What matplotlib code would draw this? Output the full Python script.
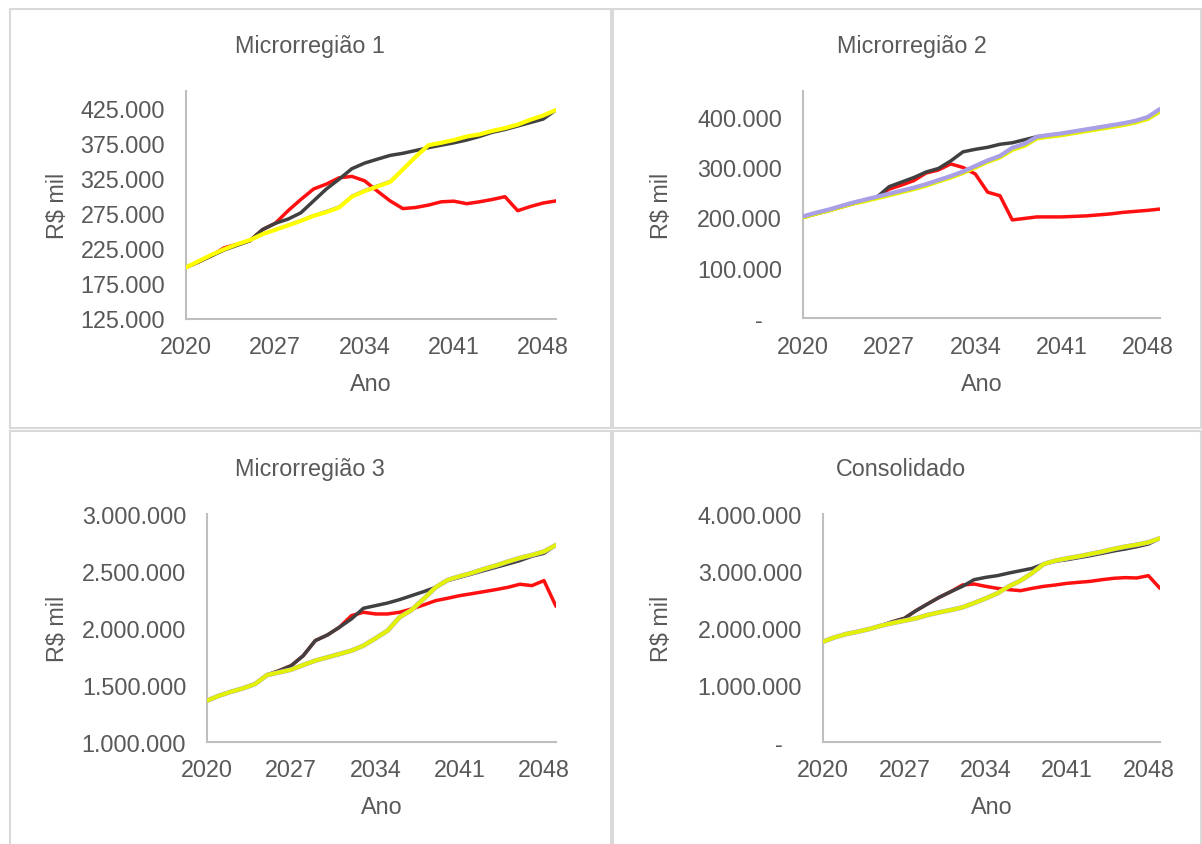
import matplotlib
matplotlib.use("Agg")
import matplotlib.pyplot as plt
from matplotlib.patches import Rectangle
from matplotlib.ticker import FuncFormatter

plt.rcParams['font.family'] = ['Liberation Sans', 'DejaVu Sans']

years = list(range(2020, 2050))
xticks = [2020, 2027, 2034, 2041, 2048]

titles = ["Microrregião 1", "Microrregião 2", "Microrregião 3", "Consolidado"]

m1_black = [198000, 206000, 214500, 223000, 229500, 236000, 252000, 261000, 267000, 276000,
            293000, 310000, 324000, 339000, 347000, 352600, 358000, 361000, 365000, 369000,
            372600, 376000, 380000, 385000, 391000, 395000, 400000, 405000, 410000, 423000]
m1_red = [198000, 206000, 215000, 226000, 231000, 236000, 252000, 261000, 279000, 295000,
          310000, 317000, 326000, 328000, 321700, 307000, 293000, 282000, 283600, 287000,
          291700, 292600, 289000, 291700, 295000, 299000, 279000, 285000, 290000, 293000]
m1_purple = [198000, 207000, 216000, 224000, 231000, 237000, 246500, 253000, 259500, 266000,
             273000, 279000, 285500, 301000, 309000, 315500, 322000, 339500, 357000, 373000,
             376000, 380000, 385000, 388000, 393000, 397000, 402000, 409000, 415000, 423000]
m1_yellow = [198000, 207000, 216000, 224000, 231000, 237000, 245500, 251700, 258000, 264500,
             271700, 277000, 283600, 299000, 307000, 313600, 320000, 338000, 356000, 372600,
             376000, 380000, 385000, 388000, 393000, 397000, 402000, 409000, 415000, 423000]

m2_black = [200000, 207000, 213000, 220000, 227000, 233000, 240000, 261000, 270000, 279000,
            290000, 297000, 312000, 330000, 335000, 339000, 345000, 348000, 354000, 360000,
            362000, 365000, 369000, 373000, 377000, 381000, 385000, 390000, 396000, 410000]
m2_red = [200000, 207000, 213000, 220000, 227000, 233000, 240000, 256000, 264000, 273000,
          288000, 294000, 306000, 299000, 286000, 250000, 243000, 195000, 198000, 201000,
          201000, 201000, 202000, 203000, 205000, 207000, 210000, 212000, 214000, 216600]
m2_yellow = [200000, 207000, 213000, 220000, 227000, 232000, 238000, 244000, 250000, 256000,
             263000, 271000, 279000, 288000, 299000, 310000, 319000, 334000, 342000, 356500,
             360000, 363000, 367000, 371000, 375000, 379000, 383000, 388000, 395000, 410000]
m2_purple = [202000, 209000, 215000, 222000, 229000, 235000, 241000, 247000, 253000, 259000,
             266000, 274000, 282000, 291000, 302000, 313000, 322000, 338000, 346000, 360000,
             363500, 366500, 370500, 374500, 378500, 382500, 386500, 391500, 399000, 415000]

m3_black = [1360000, 1404000, 1439000, 1469000, 1507000, 1586000, 1624000, 1668000, 1756000, 1888000,
            1937000, 2005000, 2078000, 2172000, 2195000, 2218000, 2248000, 2283000, 2318000, 2356000,
            2415000, 2444000, 2473000, 2503000, 2532000, 2561000, 2591000, 2629000, 2655000, 2728000]
m3_red = [1360000, 1404000, 1439000, 1469000, 1507000, 1586000, 1624000, 1668000, 1756000, 1888000,
          1937000, 2005000, 2107000, 2137000, 2122000, 2122000, 2137000, 2166000, 2201000, 2239000,
          2260000, 2283000, 2300000, 2318000, 2336000, 2356000, 2383000, 2371000, 2415000, 2189000]
m3_purple = [1360000, 1404000, 1439000, 1469000, 1507000, 1586000, 1609000, 1633000, 1674000, 1712000,
             1741000, 1770000, 1800000, 1844000, 1908000, 1975000, 2093000, 2157000, 2254000, 2356000,
             2421000, 2453000, 2482000, 2517000, 2547000, 2582000, 2614000, 2640000, 2670000, 2728000]
m3_yellow = [1360000, 1404000, 1439000, 1469000, 1507000, 1586000, 1609000, 1633000, 1674000, 1712000,
             1741000, 1770000, 1800000, 1844000, 1908000, 1975000, 2093000, 2157000, 2254000, 2356000,
             2421000, 2453000, 2482000, 2517000, 2547000, 2582000, 2614000, 2640000, 2670000, 2728000]

m4_black = [1757000, 1833000, 1892000, 1933000, 1980000, 2038000, 2108000, 2167000, 2302000, 2420000,
            2536000, 2636000, 2729000, 2846000, 2887000, 2917000, 2963000, 3004000, 3045000, 3122000,
            3170000, 3198000, 3233000, 3268000, 3309000, 3350000, 3385000, 3426000, 3473000, 3573000]
m4_red = [1757000, 1833000, 1892000, 1933000, 1980000, 2038000, 2108000, 2167000, 2302000, 2420000,
          2536000, 2636000, 2753000, 2770000, 2729000, 2694000, 2671000, 2653000, 2694000, 2729000,
          2753000, 2782000, 2800000, 2817000, 2846000, 2870000, 2882000, 2876000, 2917000, 2694000]
m4_purple = [1757000, 1833000, 1892000, 1933000, 1980000, 2038000, 2085000, 2126000, 2167000, 2226000,
             2272000, 2313000, 2360000, 2436000, 2518000, 2606000, 2729000, 2829000, 2963000, 3122000,
             3180000, 3221000, 3256000, 3297000, 3338000, 3385000, 3426000, 3461000, 3502000, 3573000]
m4_yellow = [1757000, 1833000, 1892000, 1933000, 1980000, 2038000, 2085000, 2126000, 2167000, 2226000,
             2272000, 2313000, 2360000, 2436000, 2518000, 2606000, 2729000, 2829000, 2963000, 3122000,
             3180000, 3221000, 3256000, 3297000, 3338000, 3385000, 3426000, 3461000, 3502000, 3573000]

yticks_1 = [125000, 175000, 225000, 275000, 325000, 375000, 425000]
yticks_2 = [0, 100000, 200000, 300000, 400000]
yticks_3 = [1000000, 1500000, 2000000, 2500000, 3000000]
yticks_4 = [0, 1000000, 2000000, 3000000, 4000000]

W, H = 1202, 845
fig = plt.figure(figsize=(W / 100, H / 100), dpi=100)
fig.patch.set_facecolor('white')

TXT = '#595959'
FS = 16.8


def px_rect(l, r, b, t):
    return [l / W, 1 - b / H, (r - l) / W, (b - t) / H]


def fmt(v, pos):
    if v == 0:
        return '-   '
    return f"{int(round(v)):,}".replace(',', '.')


# panel borders
for (x0, y0, x1, y1) in [(10, 10, 611, 429), (613, 10, 1201, 429),
                         (10, 432, 611, 846), (613, 432, 1201, 846)]:
    fig.patches.append(Rectangle((x0 / W, 1 - y1 / H), (x1 - x0) / W, (y1 - y0) / H,
                                 transform=fig.transFigure, fill=False,
                                 edgecolor='#D9D9D9', linewidth=1.5))

panels = [
    dict(rect=(186, 556, 319.5, 92), ylim=(125000, 450000), yt=yticks_1,
         data=(m1_black, m1_red, m1_purple, m1_yellow), yel='#FFFF00', pw=1.2, purple_top=False,
         ylx=57, offy=0),
    dict(rect=(803, 1160, 319.3, 92.3), ylim=(0, 450000), yt=yticks_2,
         data=(m2_black, m2_red, m2_purple, m2_yellow), yel='#E6F000', pw=3.0, purple_top=True,
         ylx=662, offy=0),
    dict(rect=(207, 556, 742.7, 515), ylim=(1000000, 3000000), yt=yticks_3,
         data=(m3_black, m3_red, m3_purple, m3_yellow), yel='#E2F00A', pw=3.4, purple_top=False,
         ylx=57, offy=423),
    dict(rect=(823, 1160, 742.7, 515), ylim=(0, 4000000), yt=yticks_4,
         data=(m4_black, m4_red, m4_purple, m4_yellow), yel='#E2F00A', pw=3.4, purple_top=False,
         ylx=662, offy=423),
]

title_x = [310, 912, 310, 901]

for i, p in enumerate(panels):
    l, r, b, t = p['rect']
    ax = fig.add_axes(px_rect(l, r, b, t))
    blk, red, pur, yel = p['data']
    ax.plot(years, red, color='#FF1010', lw=2.5, solid_joinstyle='round', solid_capstyle='round', zorder=2)
    ax.plot(years, blk, color='#404040', lw=2.5, solid_joinstyle='round', solid_capstyle='round', zorder=3)
    ax.plot(years, pur, color='#A89FE6' if i != 0 else '#6A5ACD', lw=p['pw'],
            solid_joinstyle='round', solid_capstyle='round', zorder=5 if p['purple_top'] else 4)
    ax.plot(years, yel, color=p['yel'], lw=3.0, solid_joinstyle='round', solid_capstyle='round',
            zorder=4 if p['purple_top'] else 5)
    ax.set_xlim(2020, 2049)
    ax.set_ylim(*p['ylim'])
    ax.set_xticks(xticks)
    ax.set_xticklabels([str(x) for x in xticks])
    ax.set_yticks(p['yt'])
    ax.yaxis.set_major_formatter(FuncFormatter(fmt))
    for s in ['top', 'right']:
        ax.spines[s].set_visible(False)
    for s in ['left', 'bottom']:
        ax.spines[s].set_color('#BFBFBF')
        ax.spines[s].set_linewidth(1.5)
    ax.tick_params(length=0, labelsize=FS, labelcolor=TXT)
    ax.tick_params(axis='y', pad=15)
    ax.tick_params(axis='x', pad=12)
    ax.set_facecolor('none')

    off = p['offy']
    cxa = (l + r) / 2
    fig.text(title_x[i] / W, 1 - (53 + off) / H, titles[i], fontsize=FS, color=TXT,
             ha='center', va='baseline')
    fig.text(cxa / W, 1 - (391 + off) / H, 'Ano', fontsize=FS, color=TXT,
             ha='center', va='baseline')
    fig.text(p['ylx'] / W, 1 - ((b + t) / 2) / H, 'R$ mil', fontsize=FS, color=TXT,
             ha='center', va='center', rotation=90)

fig.savefig('out.png', dpi=100, facecolor='white')
